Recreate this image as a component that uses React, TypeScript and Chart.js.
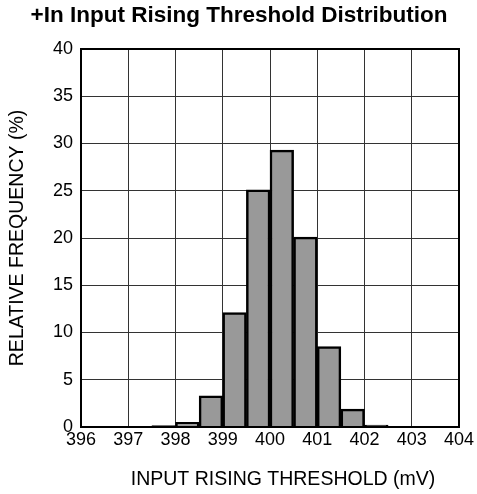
import React, { useEffect, useRef } from "react";
import { Chart, registerables } from "chart.js";

Chart.register(...registerables);

const binCenters = [396.25, 396.75, 397.25, 397.75, 398.25, 398.75, 399.25, 399.75, 400.25, 400.75, 401.25, 401.75, 402.25, 402.75, 403.25, 403.75];
const frequencies = [0, 0, 0, 0.15, 0.5, 3.3, 12.1, 25.1, 29.3, 20.1, 8.5, 1.9, 0.2, 0, 0, 0];
const titleText = "+In Input Rising Threshold Distribution";
const xTitle = "INPUT RISING THRESHOLD (mV)";
const yTitle = "RELATIVE FREQUENCY (%)";

const FONT = "'Liberation Sans', Arial, Helvetica, sans-serif";

const frame = {
  id: "frame",
  afterLayout(chart: any) {
    if (chart.titleBlock) {
      chart.titleBlock.left = 0;
      chart.titleBlock.right = 478;
    }
    const xs = chart.scales.x;
    if (xs && !xs._shifted) {
      const orig = xs.drawTitle;
      xs.drawTitle = function (...args: any[]) {
        const ctx = this.ctx;
        ctx.save();
        ctx.translate(13, 0);
        orig.apply(this, args);
        ctx.restore();
      };
      xs._shifted = true;
    }
  },
  afterDatasetsDraw(chart: any) {
    const { ctx, chartArea: a } = chart;
    ctx.save();
    ctx.strokeStyle = "#000";
    ctx.lineWidth = 2;
    ctx.strokeRect(a.left, a.top, a.right - a.left, a.bottom - a.top);
    ctx.restore();
  },
};

export default function App() {
  const ref = useRef<HTMLCanvasElement>(null);
  useEffect(() => {
    document.body.style.margin = "0";
    const chart = new Chart(ref.current!, {
      type: "bar",
      data: {
        datasets: [
          {
            data: binCenters.map((x, i) => ({ x, y: frequencies[i] })),
            backgroundColor: "#999999",
            borderColor: "#000000",
            borderWidth: 2.5,
            barPercentage: 1,
            categoryPercentage: 1,
          },
        ],
      },
      options: {
        animation: false,
        responsive: false,
        layout: { padding: { left: 0, right: 18, top: 0, bottom: 0 } },
        plugins: {
          legend: { display: false },
          tooltip: { enabled: false },
          title: {
            display: true,
            text: titleText,
            color: "#000",
            font: { family: FONT, size: 22.5, weight: "bold" },
            padding: { top: 2, bottom: 20 },
          },
        },
        scales: {
          x: {
            type: "linear",
            min: 396,
            max: 404,
            offset: false,
            afterFit: (s: any) => { s.height = 67; },
            ticks: { stepSize: 1, color: "#000", font: { family: FONT, size: 18 }, padding: 2, maxRotation: 0 },
            grid: { color: "#333", lineWidth: 1, drawTicks: false, offset: false },
            border: { display: false },
            title: { display: true, text: xTitle, color: "#000", font: { family: FONT, size: 19.5 }, padding: { top: 0, bottom: 3 } },
          },
          y: {
            min: 0,
            max: 40,
            afterFit: (s: any) => { s.width = 81; },
            ticks: { stepSize: 5, color: "#000", font: { family: FONT, size: 18 }, padding: 8 },
            grid: { color: "#333", lineWidth: 1, drawTicks: false },
            border: { display: false },
            title: { display: true, text: yTitle, color: "#000", font: { family: FONT, size: 19.5 }, padding: { top: 6, bottom: 0 } },
          },
        },
      },
      plugins: [frame],
    });
    return () => chart.destroy();
  }, []);
  return (
    <div style={{ width: 477, height: 494 }}>
      <canvas ref={ref} width={477} height={494} />
    </div>
  );
}
